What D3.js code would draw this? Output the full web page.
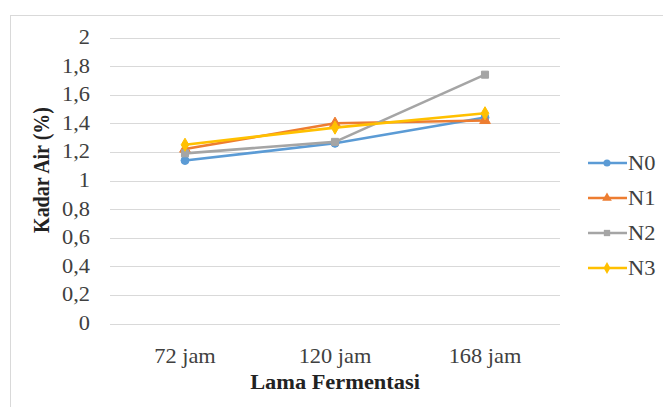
<!DOCTYPE html>
<html>
<head>
<meta charset="utf-8">
<script src="https://cdn.jsdelivr.net/npm/d3@7"></script>
<style>
  html, body { margin: 0; padding: 0; background: #fff; }
  svg { display: block; }
  text { font-family: "Liberation Serif", "Times New Roman", serif; }
</style>
</head>
<body>
<svg id="chart" width="663" height="407"></svg>
<script>
// Fermentation time categories
const categories = ["72 jam", "120 jam", "168 jam"];
const seriesNames = ["N0", "N1", "N2", "N3"];
// Water content (%) for each treatment
const n0 = [1.14, 1.26, 1.44];
const n1 = [1.22, 1.40, 1.42];
const n2 = [1.19, 1.27, 1.74];
const n3 = [1.25, 1.37, 1.47];
const yTicks = [0, 0.2, 0.4, 0.6, 0.8, 1, 1.2, 1.4, 1.6, 1.8, 2];

const colors = ["#5B9BD5", "#ED7D31", "#A5A5A5", "#FFC000"];
const symbols = [d3.symbolCircle, d3.symbolTriangle, d3.symbolSquare, d3.symbolDiamond];
const seriesValues = [n0, n1, n2, n3];

const svg = d3.select("#chart");
const stretch = 1.12;   // text is drawn slightly wide
const fmt = v => String(v).replace(".", ",");

const x = d3.scaleBand().domain(categories).range([110, 560]);
const y = d3.scaleLinear().domain([0, 2]).range([323.5, 37.5]);

// outer chart frame
svg.append("rect")
  .attr("x", 10.5).attr("y", 15.5)
  .attr("width", 700).attr("height", 500)
  .attr("fill", "#fff").attr("stroke", "#d9d9d9").attr("stroke-width", 1);

function label(g, px, py, txt, opts) {
  const t = g.append("text")
    .attr("transform", `translate(${px},${py})` + (opts.rotate ? ` rotate(${opts.rotate})` : "") + ` scale(${opts.rotate ? 1 : stretch},${opts.rotate ? stretch : 1})`)
    .attr("text-anchor", opts.anchor || "middle")
    .attr("dominant-baseline", "central")
    .attr("font-size", opts.size || 20)
    .attr("font-weight", opts.bold ? "bold" : "normal")
    .attr("fill", opts.fill || "#404040")
    .text(txt);
  return t;
}

// horizontal gridlines
svg.append("g").selectAll("line").data(yTicks).join("line")
  .attr("x1", 110).attr("x2", 560)
  .attr("y1", d => Math.round(y(d)) + 0.5).attr("y2", d => Math.round(y(d)) + 0.5)
  .attr("stroke", "#d9d9d9").attr("stroke-width", 1);

// y tick labels
const yl = svg.append("g");
yTicks.forEach(v => label(yl, 90, y(v), fmt(v), { anchor: "end", fill: "#404040" }));

// x tick labels
const xl = svg.append("g");
categories.forEach(c => label(xl, x(c) + x.bandwidth() / 2, 356, c, { fill: "#404040" }));

// axis titles
label(svg, 335, 382, "Lama Fermentasi", { bold: true, fill: "#222" });
label(svg, 42, 170, "Kadar Air (%)", { bold: true, fill: "#222", rotate: -90 });

// series lines and markers
const line = d3.line()
  .x((d, i) => x(categories[i]) + x.bandwidth() / 2)
  .y(d => y(d));

seriesValues.forEach((vals, s) => {
  const g = svg.append("g");
  g.append("path").datum(vals)
    .attr("d", line)
    .attr("fill", "none")
    .attr("stroke", colors[s]).attr("stroke-width", 2.6)
    .attr("stroke-linejoin", "round");
  g.selectAll("path.m").data(vals).join("path")
    .attr("class", "m")
    .attr("transform", (d, i) => `translate(${x(categories[i]) + x.bandwidth() / 2},${y(d)})`)
    .attr("d", d3.symbol().type(symbols[s]).size(50))
    .attr("fill", colors[s]).attr("stroke", colors[s]);
});

// legend
const lg = svg.append("g");
seriesNames.forEach((name, s) => {
  const ly = 163 + s * 35;
  lg.append("line").attr("x1", 588).attr("x2", 627)
    .attr("y1", ly).attr("y2", ly)
    .attr("stroke", colors[s]).attr("stroke-width", 2.6);
  lg.append("path")
    .attr("transform", `translate(607,${ly})`)
    .attr("d", d3.symbol().type(symbols[s]).size(40))
    .attr("fill", colors[s]);
  label(lg, 628, ly, name, { anchor: "start", fill: "#404040" });
});
</script>
</body>
</html>
